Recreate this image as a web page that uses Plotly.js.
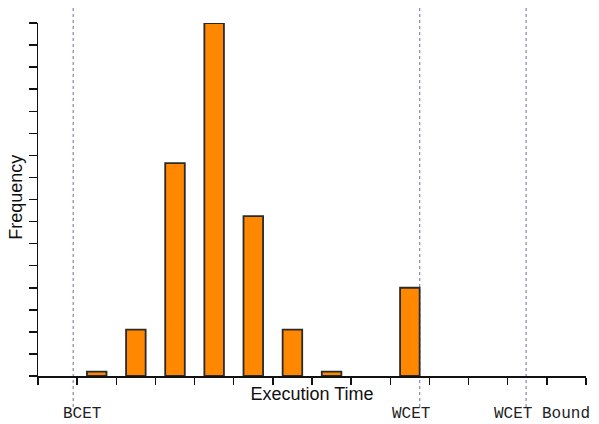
<!DOCTYPE html>
<html>
<head>
<meta charset="utf-8">
<script src="https://cdn.plot.ly/plotly-3.0.1.min.js"></script>
<style>html,body{margin:0;padding:0;background:#fff;}#chart{width:599px;height:424px;}</style>
</head>
<body>
<div id="chart"></div>
<script>
// Histogram bins (centre of each bin on the execution-time axis) and frequencies
var binCenters = [1.5, 2.5, 3.5, 4.5, 5.5, 6.5, 7.5, 9.5];
var frequencies = [0.2, 2.1, 9.65, 16, 7.25, 2.1, 0.2, 4];

// Reference markers on the execution-time axis
var markerNames = ["BCET", "WCET", "WCET Bound"];
var markerPositions = [0.9, 9.75, 12.47];

var xTitle = "Execution Time";
var yTitle = "Frequency";

var labelShift = [9, -9, 16];

var shapes = markerPositions.map(function (x) {
  return {
    type: "line", xref: "x", yref: "paper",
    x0: x, x1: x, y0: -0.088, y1: 1.043,
    line: {color: "#8f8fb8", width: 1.3, dash: "dot"},
    layer: "below"
  };
});

var annotations = markerNames.map(function (name, i) {
  return {
    text: name, xref: "x", yref: "paper",
    x: markerPositions[i], y: -0.109, xshift: labelShift[i],
    xanchor: "center", yanchor: "middle", showarrow: false, borderpad: 0,
    font: {family: "Liberation Mono, Courier New, monospace", size: 16, color: "#222"}
  };
});

// y-axis title placed as rotated annotation to match reference spacing
annotations.push({
  text: yTitle, xref: "paper", yref: "paper", x: 0, y: 0.505,
  xshift: -22, xanchor: "center", yanchor: "middle", textangle: -90,
  showarrow: false, borderpad: 0,
  font: {family: "Liberation Sans, Arial, sans-serif", size: 18, color: "#111"}
});

var trace = {
  type: "bar",
  x: binCenters,
  y: frequencies,
  width: 0.5,
  marker: {color: "#ff8800", line: {color: "#2a2a2a", width: 1.8}},
  hoverinfo: "none"
};

var layout = {
  width: 599, height: 424,
  margin: {l: 38, r: 13, t: 23, b: 48, pad: 0},
  paper_bgcolor: "#fff", plot_bgcolor: "#fff",
  showlegend: false,
  xaxis: {
    range: [0, 14], tick0: 0, dtick: 1, ticks: "outside", ticklen: 7, tickwidth: 1.5,
    tickcolor: "#111", showline: true, linecolor: "#111", linewidth: 1.5,
    showgrid: false, zeroline: false, showticklabels: false,
    title: {text: xTitle, standoff: 4, font: {family: "Liberation Sans, Arial, sans-serif", size: 18, color: "#111"}}
  },
  yaxis: {
    range: [0, 16], tick0: 0, dtick: 1, ticks: "outside", ticklen: 8, tickwidth: 1.5,
    tickcolor: "#111", showline: true, linecolor: "#111", linewidth: 1.5,
    showgrid: false, zeroline: false, showticklabels: false
  },
  shapes: shapes,
  annotations: annotations
};

Plotly.newPlot("chart", [trace], layout, {displayModeBar: false, staticPlot: true});
</script>
</body>
</html>
